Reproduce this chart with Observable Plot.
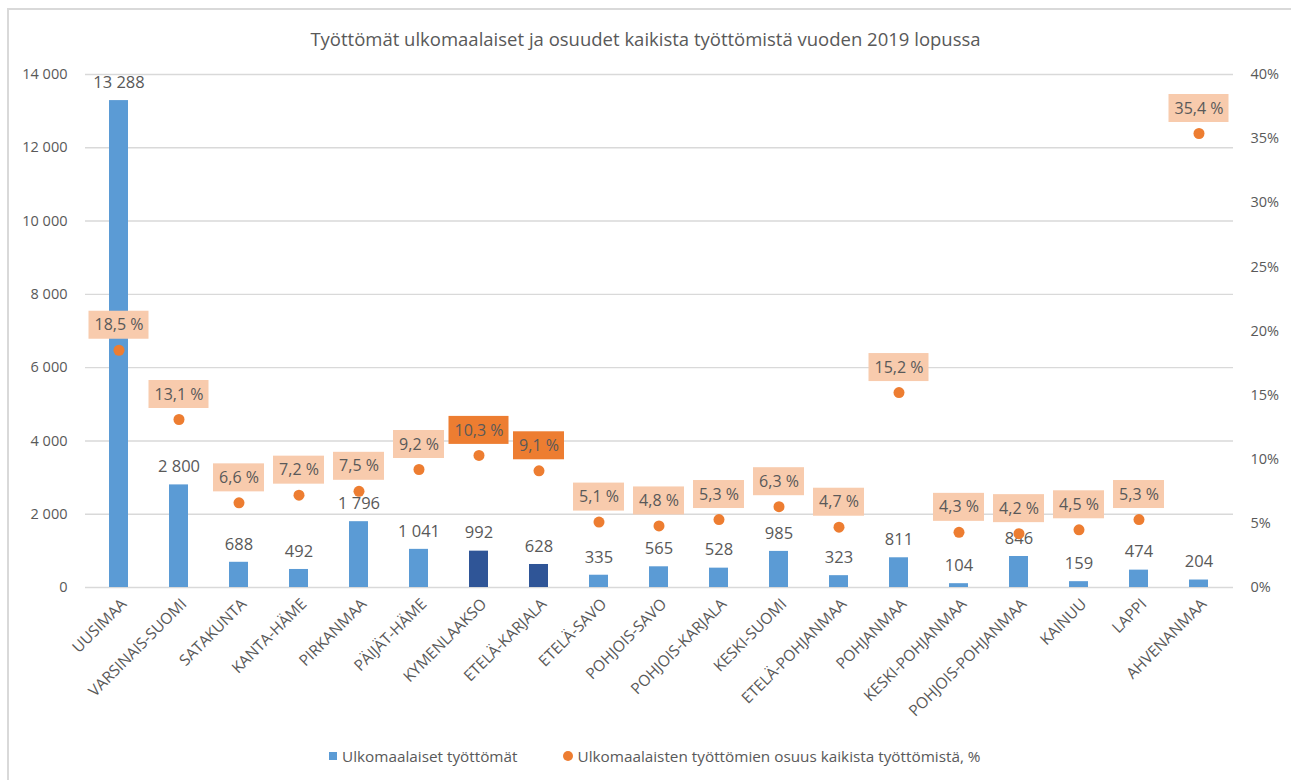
<!DOCTYPE html>
<html>
<head>
<meta charset="utf-8">
<script src="https://cdn.jsdelivr.net/npm/d3@7"></script>
<script src="https://cdn.jsdelivr.net/npm/@observablehq/plot@0.6"></script>
<style>
  body { margin: 0; background: #fff; font-family: "Open Sans", sans-serif; color: #595959; }
  #frame { position: absolute; left: 7px; top: 8px; right: 0; bottom: 0; border-top: 2px solid #d9d9d9; border-left: 2px solid #d9d9d9; }
  #title { position: absolute; top: 26px; left: 0; width: 1291px; text-align: center; font-size: 18.5px; color: #595959; }
  #chart { position: absolute; top: 60px; left: 0; }
  #legend { position: absolute; top: 746px; left: 329px; font-size: 15.3px; display: flex; align-items: center; white-space: nowrap; }
  .sq { display: inline-block; width: 8px; height: 8px; background: #5B9BD5; margin-right: 5px; }
  .ci { display: inline-block; width: 10px; height: 10px; border-radius: 50%; background: #ED7D31; margin-right: 4px; margin-left: 46px; }
</style>
</head>
<body>
<div id="frame"></div>
<div id="title">Työttömät ulkomaalaiset ja osuudet kaikista työttömistä vuoden 2019 lopussa</div>
<div id="chart"></div>
<div id="legend"><span class="sq"></span><span>Ulkomaalaiset työttömät</span><span class="ci"></span><span>Ulkomaalaisten työttömien osuus kaikista työttömistä, %</span></div>
<script>
const regions = ["UUSIMAA","VARSINAIS-SUOMI","SATAKUNTA","KANTA-HÄME","PIRKANMAA","PÄIJÄT-HÄME","KYMENLAAKSO","ETELÄ-KARJALA","ETELÄ-SAVO","POHJOIS-SAVO","POHJOIS-KARJALA","KESKI-SUOMI","ETELÄ-POHJANMAA","POHJANMAA","KESKI-POHJANMAA","POHJOIS-POHJANMAA","KAINUU","LAPPI","AHVENANMAA"];
const unemployed = [13288, 2800, 688, 492, 1796, 1041, 992, 628, 335, 565, 528, 985, 323, 811, 104, 846, 159, 474, 204];
const sharePct = [18.5, 13.1, 6.6, 7.2, 7.5, 9.2, 10.3, 9.1, 5.1, 4.8, 5.3, 6.3, 4.7, 15.2, 4.3, 4.2, 4.5, 5.3, 35.4];
const highlighted = ["KYMENLAAKSO", "ETELÄ-KARJALA"];
const leftTicks = [0, 2000, 4000, 6000, 8000, 10000, 12000, 14000];
const rightTicks = [0, 5, 10, 15, 20, 25, 30, 35, 40];

const fi = d3.formatLocale({decimal: ",", thousands: "\u00a0", grouping: [3], currency: ["", " €"]});
const fmtInt = fi.format(",d");
const fmtPct = fi.format(".1f");
const pctToY = d3.scaleLinear([0, 40], [0, 14000]);

const data = regions.map((r, i) => ({
  region: r,
  value: unemployed[i],
  pct: sharePct[i],
  py: pctToY(sharePct[i]),
  hi: highlighted.includes(r),
  wide: sharePct[i] >= 10
}));

const txt = "#595959";
const font = "Open Sans, sans-serif";

const plot = Plot.plot({
  width: 1291,
  height: 680,
  marginLeft: 85,
  marginRight: 58,
  marginTop: 14,
  marginBottom: 153,
  style: {fontFamily: font, color: txt, background: "transparent"},
  x: {domain: regions, paddingInner: 0.68, paddingOuter: 0.34, label: null},
  y: {domain: [0, 14000], label: null},
  marks: [
    Plot.gridY(leftTicks, {stroke: "#d9d9d9", strokeOpacity: 1, strokeWidth: 1.4}),
    Plot.axisY(leftTicks, {tickSize: 0, tickPadding: 18, tickFormat: fmtInt, fontSize: 14.5, fill: txt, label: null}),
    Plot.axisY(rightTicks.map(pctToY), {anchor: "right", tickSize: 0, tickPadding: 17, tickFormat: d => Math.round(pctToY.invert(d)) + "%", fontSize: 14.5, fill: txt, label: null}),
    Plot.axisX({tickRotate: -45, tickSize: 0, tickPadding: 14, dx: 5, fontSize: 15.5, fill: txt, label: null}),
    Plot.barY(data.filter(d => !d.hi), {x: "region", y: "value", fill: "#5B9BD5"}),
    Plot.barY(data.filter(d => d.hi), {x: "region", y: "value", fill: "#2F5597"}),
    Plot.text(data, {x: "region", y: "value", text: d => fmtInt(d.value), dy: -18, fontSize: 16.5, fill: txt}),
    // label boxes
    Plot.barY(data.filter(d => !d.wide), {x: "region", y1: "py", y2: "py", insetTop: -39, insetBottom: 11, insetLeft: -16, insetRight: -16, fill: d => d.hi ? "#ED7D31" : "#F8CBAD"}),
    Plot.barY(data.filter(d => d.wide), {x: "region", y1: "py", y2: "py", insetTop: -39, insetBottom: 11, insetLeft: -20.5, insetRight: -20.5, fill: d => d.hi ? "#ED7D31" : "#F8CBAD"}),
    Plot.text(data, {x: "region", y: "py", text: d => fmtPct(d.pct) + "\u00a0%", dy: -25, fontSize: 16, fill: txt}),
    Plot.dot(data, {x: "region", y: "py", r: 5.5, fill: "#ED7D31", stroke: "none"})
  ]
});
document.getElementById("chart").appendChild(plot);
</script>
</body>
</html>
